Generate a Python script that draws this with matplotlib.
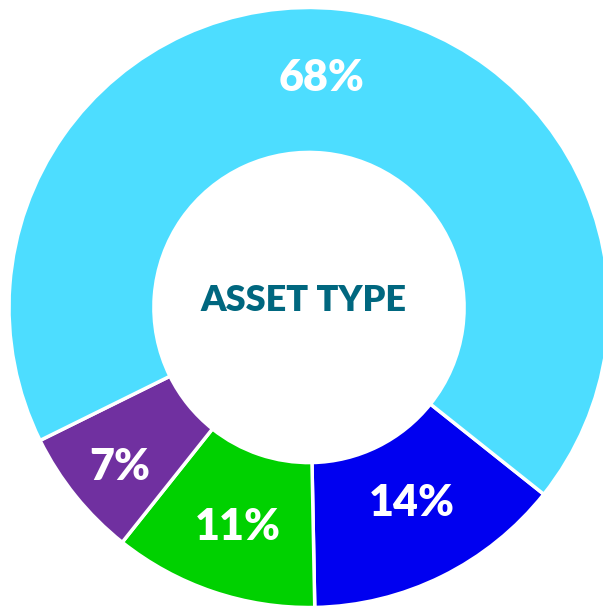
import matplotlib
matplotlib.use("Agg")
import matplotlib.pyplot as plt
import numpy as np

categories = ["Type A", "Type B", "Type C", "Type D"]
values = [14, 11, 7, 68]
labels = ["14%", "11%", "7%", "68%"]
colors = ["#0000F0", "#00D100", "#7030A0", "#4DDDFF"]
title = "ASSET TYPE"

W, H = 603, 609
fig = plt.figure(figsize=(W / 100, H / 100), dpi=100)
cx, cy, R = 309, 609 - 307.5, 300
ax = fig.add_axes([(cx - R) / W, (cy - R) / H, 2 * R / W, 2 * R / H])

start = -38.5
ax.pie(values, colors=colors, startangle=start, counterclock=False,
       radius=1.0, wedgeprops=dict(width=0.483, edgecolor="white", linewidth=2.5))

# label placement tweaks (radius, angle nudge in degrees)
label_r = [0.737, 0.77, 0.825, 0.766]
label_nudge = [1.5, 0.7, 1.3, 2.9]
ang = start
total = sum(values)
for v, lab, r, dn in zip(values, labels, label_r, label_nudge):
    span = 360 * v / total
    mid = np.deg2rad(ang - span / 2 + dn)
    ang -= span
    ax.text(r * np.cos(mid), r * np.sin(mid), lab, ha="center", va="center",
            color="white", fontsize=31, fontweight="heavy", family=["Lato", "DejaVu Sans"])

ax.text(-0.017, 0.023, title, ha="center", va="center", color="#00677F",
        fontsize=26, fontweight="heavy", family=["Lato", "DejaVu Sans"])
ax.set_xlim(-1, 1)
ax.set_ylim(-1, 1)
ax.set_aspect("equal")
ax.axis("off")
fig.savefig("out.png", dpi=100)
